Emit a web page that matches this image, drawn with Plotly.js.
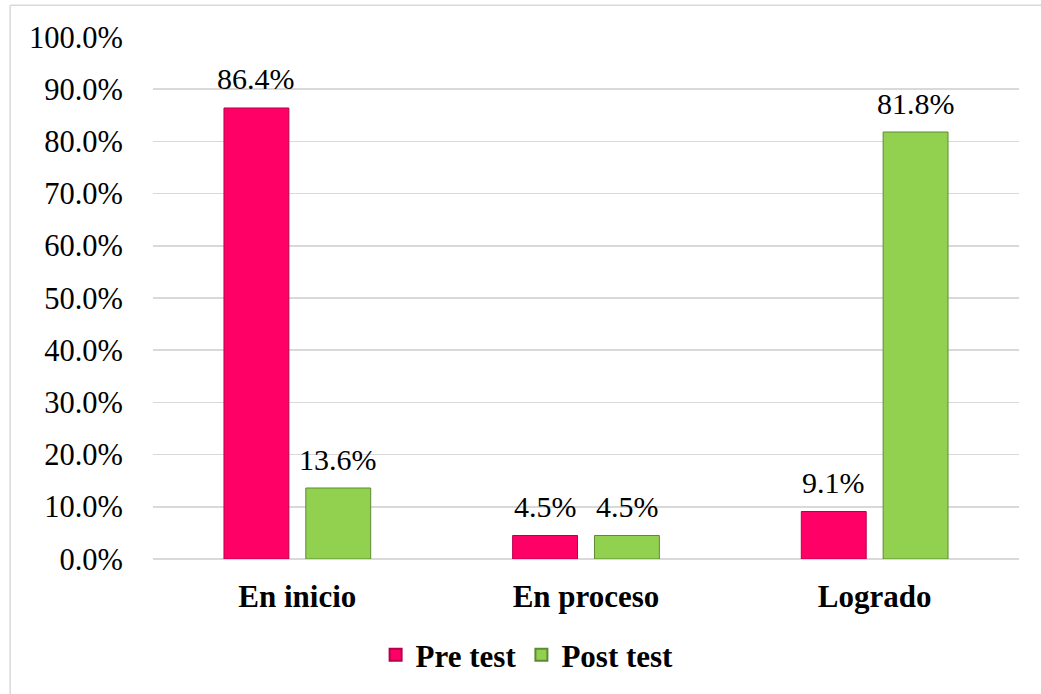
<!DOCTYPE html>
<html>
<head>
<meta charset="utf-8">
<script src="https://cdn.plot.ly/plotly-3.0.1.min.js"></script>
<style>
html,body{margin:0;padding:0;background:#fff;}
#chart{width:1041px;height:694px;}
</style>
</head>
<body>
<div id="chart"></div>
<script>
var categories = ['En inicio', 'En proceso', 'Logrado'];
var seriesNames = ['Pre test', 'Post test'];
var preTest = [0.864, 0.045, 0.091];
var postTest = [0.136, 0.045, 0.818];
var yTicks = [0, 0.1, 0.2, 0.3, 0.4, 0.5, 0.6, 0.7, 0.8, 0.9, 1.0];

var serif = 'Liberation Serif, Times New Roman, serif';

var traces = [
  {
    type: 'bar', name: seriesNames[0], x: categories, y: preTest,
    marker: {color: '#FF0066', line: {color: '#B8004A', width: 1}},
    hoverinfo: 'none'
  },
  {
    type: 'bar', name: seriesNames[1], x: categories, y: postTest,
    marker: {color: '#92D050', line: {color: '#5E8A34', width: 1}},
    hoverinfo: 'none'
  }
];

// data labels placed from the same arrays
var annotations = [];
var series = [preTest, postTest];
var shifts = [-41, 41];
series.forEach(function (vals, si) {
  vals.forEach(function (v, i) {
    annotations.push({
      xref: 'x', yref: 'y', x: categories[i], y: v,
      text: (v * 100).toFixed(1) + '%', showarrow: false,
      xshift: shifts[si], yshift: 29, yanchor: 'middle', xanchor: 'center',
      font: {family: serif, size: 30, color: '#000'}
    });
  });
});

var layout = {
  width: 1041, height: 694,
  margin: {l: 153, r: 22, t: 37, b: 132},
  paper_bgcolor: '#fff', plot_bgcolor: '#fff',
  barmode: 'group', bargap: 0.433, bargroupgap: 0.207,
  showlegend: true,
  legend: {
    orientation: 'h', x: 0.432, xanchor: 'center', y: -0.184, yanchor: 'middle',
    font: {family: serif, size: 31, color: '#000', weight: 'bold'},
    itemsizing: 'constant', traceorder: 'normal', itemwidth: 30
  },
  xaxis: {
    showgrid: false, showline: false, zeroline: false,
    tickfont: {family: serif, size: 31, color: '#000', weight: 'bold'},
    ticks: '', ticklabelstandoff: 16
  },
  yaxis: {
    range: [0, 1.0], tickvals: yTicks, tickformat: '.1%',
    showgrid: true, gridcolor: '#D9D9D9', gridwidth: 1.5,
    zeroline: true, zerolinecolor: '#D9D9D9', zerolinewidth: 1.5,
    showline: false, ticks: '',
    tickfont: {family: serif, size: 30.5, color: '#000'},
    ticklabelstandoff: 29
  },
  annotations: annotations,
  shapes: [
    {type: 'line', xref: 'paper', yref: 'paper', x0: -0.165, x1: -0.165, y0: -0.3, y1: 1.061,
     line: {color: '#D9D9D9', width: 1.5}},
    {type: 'line', xref: 'paper', yref: 'paper', x0: -0.165, x1: 1.03, y0: 1.061, y1: 1.061,
     line: {color: '#D9D9D9', width: 1.5}}
  ]
};

Plotly.newPlot('chart', traces, layout, {displayModeBar: false, staticPlot: true});
</script>
</body>
</html>
